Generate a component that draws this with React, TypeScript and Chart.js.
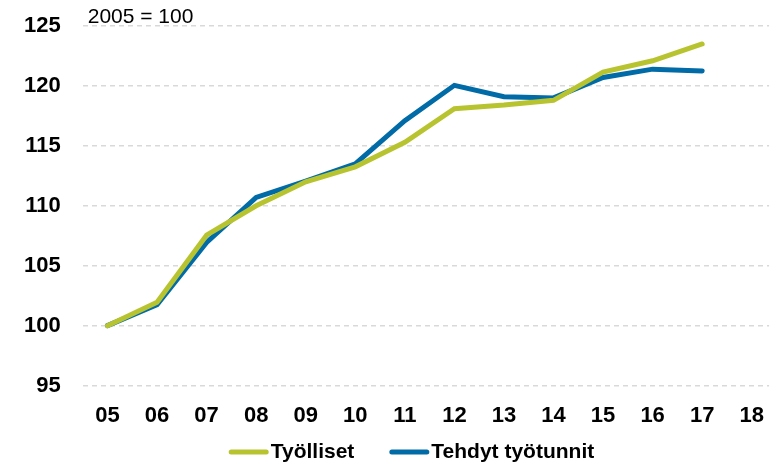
import React, { useEffect, useRef } from "react";
import { Chart, registerables } from "chart.js";

Chart.register(...registerables);

const yearLabels = ["05", "06", "07", "08", "09", "10", "11", "12", "13", "14", "15", "16", "17", "18"];
const years = [5, 6, 7, 8, 9, 10, 11, 12, 13, 14, 15, 16, 17];
const tyolliset = [100, 101.95, 107.55, 110.0, 112.0, 113.25, 115.3, 118.1, 118.4, 118.8, 121.15, 122.1, 123.5];
const tehdytTyotunnit = [100, 101.75, 106.95, 110.7, 112.05, 113.5, 117.1, 120.05, 119.1, 119.0, 120.7, 121.4, 121.25];
const seriesNames = ["Työlliset", "Tehdyt työtunnit"];
const baseNote = "2005 = 100";

const GREEN = "#b8c42f";
const BLUE = "#006ba6";
const FONT = "'Liberation Sans', Arial, sans-serif";

const notePlugin = {
  id: "baseNote",
  afterDraw(chart: any) {
    const { ctx, chartArea } = chart;
    ctx.save();
    ctx.font = `21px ${FONT}`;
    ctx.fillStyle = "#000";
    ctx.textAlign = "left";
    ctx.textBaseline = "middle";
    ctx.fillText(baseNote, chartArea.left + 5, chartArea.top - 9);
    ctx.restore();
  },
};

const legendPlugin = {
  id: "customLegend",
  afterDraw(chart: any) {
    const { ctx, chartArea } = chart;
    ctx.save();
    ctx.font = `bold 21px ${FONT}`;
    ctx.textBaseline = "middle";
    ctx.textAlign = "left";
    const y = chart.height - 14;
    let x = chartArea.left + 146;
    chart.data.datasets.forEach((ds: any) => {
      ctx.strokeStyle = ds.borderColor;
      ctx.lineWidth = 5;
      ctx.lineCap = "round";
      ctx.beginPath();
      ctx.moveTo(x + 2.5, y);
      ctx.lineTo(x + 37.5, y);
      ctx.stroke();
      ctx.fillStyle = "#000";
      ctx.fillText(ds.label, x + 42, y);
      x += 42 + ctx.measureText(ds.label).width + 35;
    });
    ctx.restore();
  },
};

export default function App() {
  const ref = useRef<HTMLCanvasElement>(null);
  useEffect(() => {
    if (!ref.current) return;
    const chart = new Chart(ref.current, {
      type: "line",
      data: {
        datasets: [
          {
            label: seriesNames[0],
            data: years.map((x, i) => ({ x, y: tyolliset[i] })),
            borderColor: GREEN,
            backgroundColor: GREEN,
            borderWidth: 5,
            pointRadius: 0,
            borderCapStyle: "round",
            borderJoinStyle: "miter",
            tension: 0,
          },
          {
            label: seriesNames[1],
            data: years.map((x, i) => ({ x, y: tehdytTyotunnit[i] })),
            borderColor: BLUE,
            backgroundColor: BLUE,
            borderWidth: 5,
            pointRadius: 0,
            borderCapStyle: "round",
            borderJoinStyle: "miter",
            tension: 0,
          },
        ],
      },
      options: {
        responsive: false,
        animation: false,
        layout: { padding: { top: 26, left: 2, right: 1, bottom: 28 } },
        scales: {
          x: {
            type: "linear",
            min: 4.5,
            max: 18.35,
            grid: { display: false },
            border: { display: false },
            ticks: {
              stepSize: 1,
              includeBounds: false,
              autoSkip: false,
              maxRotation: 0,
              padding: 9,
              color: "#000",
              font: { family: FONT, size: 22, weight: "bold" },
              callback: (v: any) => (Number.isInteger(v) ? yearLabels[v - 5] ?? "" : ""),
            },
          },
          y: {
            min: 95,
            max: 125,
            grid: { color: "#d9d9d9", lineWidth: 1.5, tickLength: 0, drawTicks: false },
            border: { display: false, dash: [5, 4] },
            afterFit: (s: any) => {
              s.paddingTop = 12;
              s.paddingBottom = 12;
            },
            ticks: {
              stepSize: 5,
              padding: 22,
              color: "#000",
              font: { family: FONT, size: 22, weight: "bold" },
            },
          },
        },
        plugins: {
          tooltip: { enabled: false },
          legend: { display: false },
        },
      },
      plugins: [notePlugin, legendPlugin],
    } as any);
    return () => chart.destroy();
  }, []);
  return (
    <div style={{ position: "absolute", left: 0, top: 0, width: 773, height: 466, background: "#fff" }}>
      <canvas ref={ref} width={773} height={466} />
    </div>
  );
}
